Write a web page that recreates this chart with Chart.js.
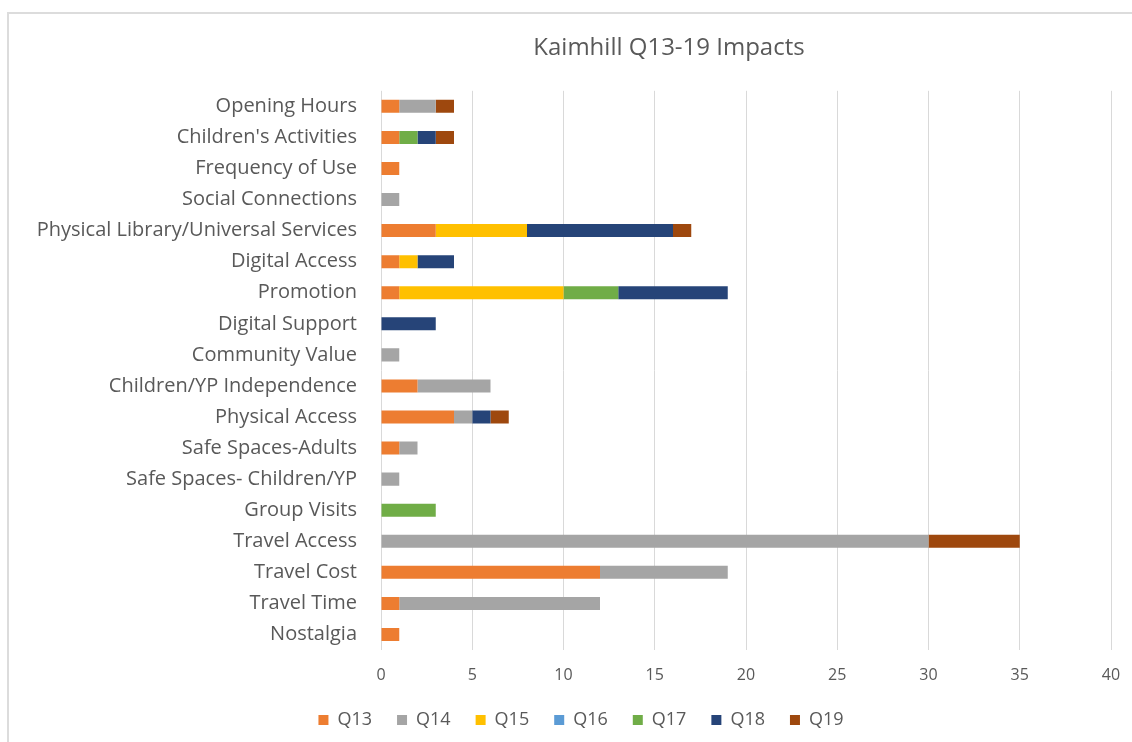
<!DOCTYPE html>
<html>
<head>
<meta charset="utf-8">
<script src="https://cdn.jsdelivr.net/npm/chart.js@4"></script>
<style>
    html, body { margin: 0; padding: 0; background: #fff; overflow: hidden; }
    #frame {
        position: absolute; left: 7px; top: 12px; width: 1200px; height: 800px;
        border: 2px solid #dcdcdc; box-sizing: border-box;
    }
    #wrap { position: absolute; left: 0; top: 0; width: 1132px; height: 742px; }
</style>
</head>
<body>
<div id="frame"></div>
<div id="wrap"><canvas id="impactChart" width="1132" height="742"></canvas></div>
<script>
// Categories, top to bottom
const CATEGORIES = [
    'Opening Hours', "Children's Activities", 'Frequency of Use', 'Social Connections',
    'Physical Library/Universal Services', 'Digital Access', 'Promotion', 'Digital Support',
    'Community Value', 'Children/YP Independence', 'Physical Access', 'Safe Spaces-Adults',
    'Safe Spaces- Children/YP', 'Group Visits', 'Travel Access', 'Travel Cost',
    'Travel Time', 'Nostalgia'
];

// Series values, same order as categories
const Q13 = [1, 1, 1, 0, 3, 1, 1, 0, 0, 2, 4, 1, 0, 0, 0, 12, 1, 1];
const Q14 = [2, 0, 0, 1, 0, 0, 0, 0, 1, 4, 1, 1, 1, 0, 30, 7, 11, 0];
const Q15 = [0, 0, 0, 0, 5, 1, 9, 0, 0, 0, 0, 0, 0, 0, 0, 0, 0, 0];
const Q16 = [0, 0, 0, 0, 0, 0, 0, 0, 0, 0, 0, 0, 0, 0, 0, 0, 0, 0];
const Q17 = [0, 1, 0, 0, 0, 0, 3, 0, 0, 0, 0, 0, 0, 3, 0, 0, 0, 0];
const Q18 = [0, 1, 0, 0, 8, 2, 6, 3, 0, 0, 1, 0, 0, 0, 0, 0, 0, 0];
const Q19 = [1, 1, 0, 0, 1, 0, 0, 0, 0, 0, 1, 0, 0, 0, 5, 0, 0, 0];

const SERIES_NAMES = ['Q13', 'Q14', 'Q15', 'Q16', 'Q17', 'Q18', 'Q19'];
const SERIES_VALUES = [Q13, Q14, Q15, Q16, Q17, Q18, Q19];
const SERIES_COLORS = ['#ED7D31', '#A5A5A5', '#FFC000', '#5B9BD5', '#70AD47', '#264478', '#9E480E'];

// Axis range
const X_MIN = 0;
const X_MAX = 40;
const X_STEP = 5;

const TEXT_COLOR = '#595959';
const GRID_COLOR = '#d9d9d9';
const FONT = '"Open Sans", Lato, sans-serif';

// Excel centres title and legend on its own frame, not on the canvas
const TITLE_CENTER_X = 669;
const LEGEND_CENTER_X = 581;

const centerBoxes = {
    id: 'centerBoxes',
    afterLayout(chart) {
        const move = (box, cx) => {
            if (!box) return;
            const w = box.right - box.left;
            box.left = cx - w / 2;
            box.right = cx + w / 2;
        };
        move(chart.titleBlock, TITLE_CENTER_X);
        move(chart.legend, LEGEND_CENTER_X);
    }
};

const datasets = SERIES_NAMES.map((name, i) => ({
    label: name,
    data: SERIES_VALUES[i],
    backgroundColor: SERIES_COLORS[i],
    borderWidth: 0,
    categoryPercentage: 1,
    barPercentage: 0.42
}));

const ctx = document.getElementById('impactChart').getContext('2d');
new Chart(ctx, {
    type: 'bar',
    data: { labels: CATEGORIES, datasets: datasets },
    plugins: [centerBoxes],
    options: {
        indexAxis: 'y',
        responsive: false,
        animation: false,
        layout: { padding: { left: 0, right: 21, top: 12, bottom: 3 } },
        plugins: {
            title: {
                display: true,
                text: 'Kaimhill Q13-19 Impacts',
                color: TEXT_COLOR,
                font: { family: FONT, size: 24, weight: 'normal' },
                padding: { top: 22, bottom: 28 }
            },
            legend: {
                display: true,
                position: 'bottom',
                labels: {
                    color: TEXT_COLOR,
                    font: { family: FONT, size: 18 },
                    boxWidth: 10,
                    boxHeight: 10,
                    padding: 25
                }
            },
            tooltip: { enabled: false }
        },
        scales: {
            x: {
                stacked: true,
                min: X_MIN,
                max: X_MAX,
                ticks: {
                    stepSize: X_STEP,
                    color: TEXT_COLOR,
                    font: { family: FONT, size: 16 },
                    padding: 16
                },
                grid: { color: GRID_COLOR, lineWidth: 1, drawTicks: false },
                border: { display: false },
                afterFit: function(scale) {
                    scale.height = 36;
                    scale.paddingLeft = 0;
                    scale.paddingRight = 0;
                }
            },
            y: {
                stacked: true,
                ticks: {
                    color: TEXT_COLOR,
                    font: { family: FONT, size: 20 },
                    padding: 24,
                    autoSkip: false
                },
                grid: { display: false, drawTicks: false },
                border: { display: false },
                afterFit: function(scale) { scale.width = 381; }
            }
        }
    }
});
</script>
</body>
</html>
